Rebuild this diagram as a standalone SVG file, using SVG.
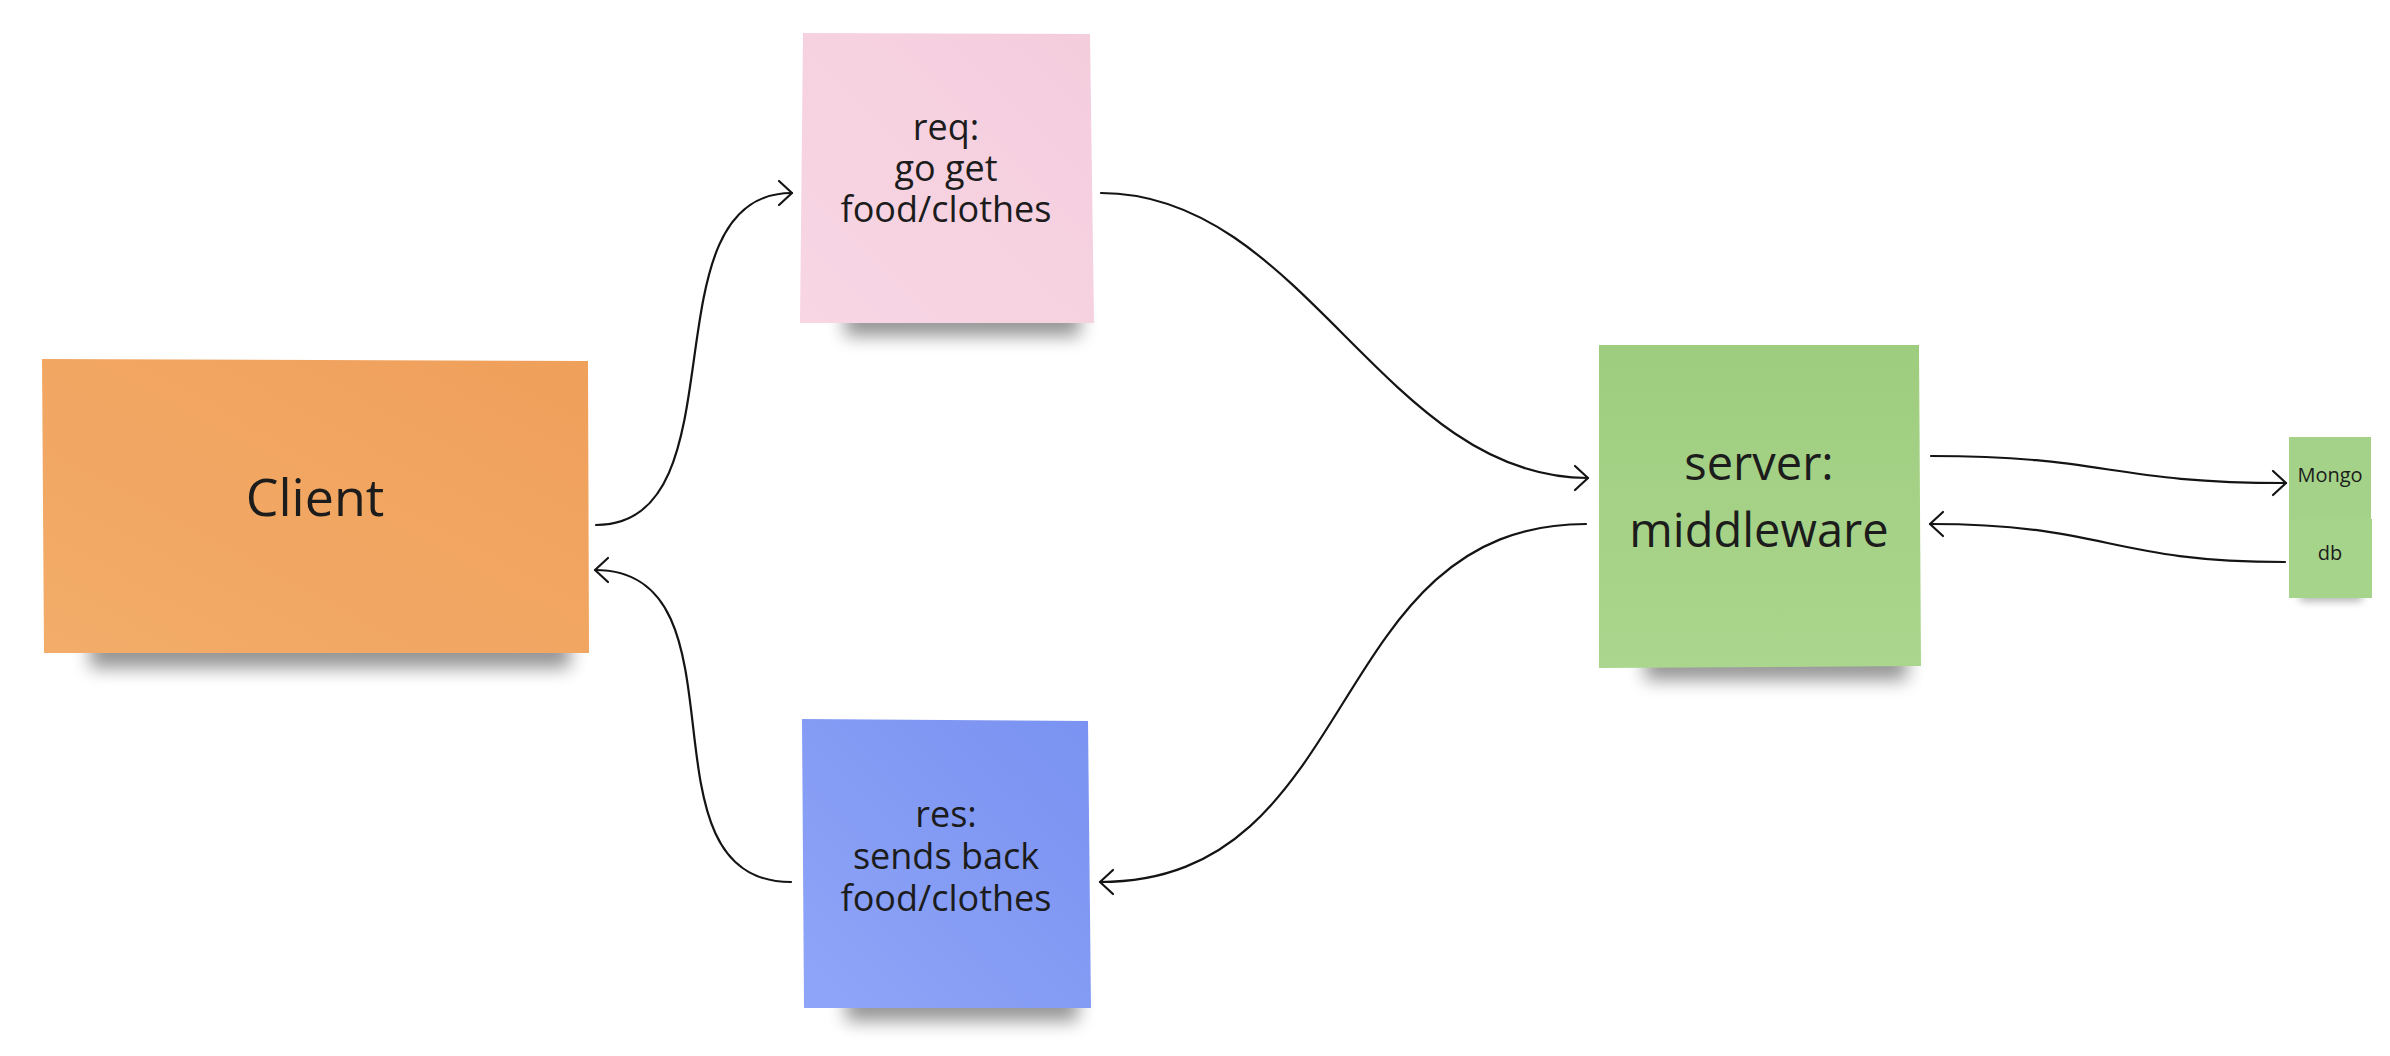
<svg xmlns="http://www.w3.org/2000/svg" width="2390" height="1056" viewBox="0 0 2390 1056">
<defs>
<style>
.t{font-family:"Open Sans","Noto Sans","Liberation Sans",sans-serif;fill:#1c1c1c;text-anchor:middle}
.c{fill:none;stroke:#141414;stroke-width:2.2;stroke-linecap:round}
.sh{fill:#000;opacity:0.42;filter:url(#blur)}
.shs{fill:#000;opacity:0.32;filter:url(#blurS)}
</style>
<filter id="blur" x="-20%" y="-150%" width="140%" height="400%"><feGaussianBlur stdDeviation="9"/></filter>
<filter id="blurS" x="-30%" y="-150%" width="160%" height="400%"><feGaussianBlur stdDeviation="4"/></filter>
<marker id="arr" markerUnits="userSpaceOnUse" markerWidth="30" markerHeight="30" viewBox="-16 -15 20 30" refX="0" refY="0" orient="auto">
<path d="M-13,-12 L0,0 L-13,12" fill="none" stroke="#141414" stroke-width="2.2" stroke-linecap="round" stroke-linejoin="round"/>
</marker>
<linearGradient id="gOr" x1="1" y1="0" x2="0" y2="1"><stop offset="0" stop-color="#efa05b"/><stop offset="1" stop-color="#f3ac69"/></linearGradient>
<linearGradient id="gPk" x1="1" y1="0" x2="0" y2="1"><stop offset="0" stop-color="#f4cddd"/><stop offset="1" stop-color="#f8d6e4"/></linearGradient>
<linearGradient id="gBl" x1="1" y1="0" x2="0" y2="1"><stop offset="0" stop-color="#7a92f1"/><stop offset="1" stop-color="#8fa5f8"/></linearGradient>
<linearGradient id="gGr" x1="0.5" y1="0" x2="0.5" y2="1"><stop offset="0" stop-color="#9fcd7f"/><stop offset="1" stop-color="#aad68d"/></linearGradient>
</defs>
<rect width="2390" height="1056" fill="#ffffff"/>

<g id="connectors">
<path class="c" d="M596,525 C746,525 642,193 792,193" marker-end="url(#arr)"/>
<path class="c" d="M1101,193 C1304,193 1385,478 1588,478" marker-end="url(#arr)"/>
<path class="c" d="M1586,524 C1322,524 1364,882 1100,882" marker-end="url(#arr)"/>
<path class="c" d="M791,882 C631,882 755,570 595,570" marker-end="url(#arr)"/>
<path class="c" d="M1931,456 C2108,456 2109,483 2286,483" marker-end="url(#arr)"/>
<path class="c" d="M2285,562 C2108,562 2107,524 1930,524" marker-end="url(#arr)"/>
</g>

<g id="client">
<rect class="sh" x="90" y="636" width="480" height="32"/>
<polygon points="42,359 588,361 589,653 44,653" fill="url(#gOr)"/>
<text class="t" x="315" y="516" font-size="52">Client</text>
</g>

<g id="req">
<rect class="sh" x="845" y="306" width="235" height="30"/>
<polygon points="803,33 1090,34 1094,323 800,323" fill="url(#gPk)"/>
<text class="t" font-size="36"><tspan x="946" y="140">req:</tspan><tspan x="946" y="181">go get</tspan><tspan x="946" y="222">food/clothes</tspan></text>
</g>

<g id="res">
<rect class="sh" x="846" y="991" width="232" height="30"/>
<polygon points="802,719 1088,721 1091,1008 804,1008" fill="url(#gBl)"/>
<text class="t" font-size="36"><tspan x="946" y="827">res:</tspan><tspan x="946" y="869">sends back</tspan><tspan x="946" y="911">food/clothes</tspan></text>
</g>

<g id="server">
<rect class="sh" x="1645" y="650" width="262" height="30"/>
<polygon points="1599,345 1919,345 1921,666 1599,668" fill="url(#gGr)"/>
<text class="t" font-size="47"><tspan x="1759" y="480">server:</tspan><tspan x="1759" y="547">middleware</tspan></text>
</g>

<g id="mongo">
<rect class="shs" x="2300" y="512" width="62" height="10"/>
<rect x="2289" y="437" width="82" height="82" fill="#a4d288"/>
<text class="t" x="2330" y="482" font-size="20">Mongo</text>
</g>

<g id="db">
<rect class="shs" x="2300" y="591" width="62" height="10"/>
<rect x="2289" y="519" width="83" height="79" fill="#a6d48a"/>
<text class="t" x="2330" y="560" font-size="20">db</text>
</g>
</svg>
